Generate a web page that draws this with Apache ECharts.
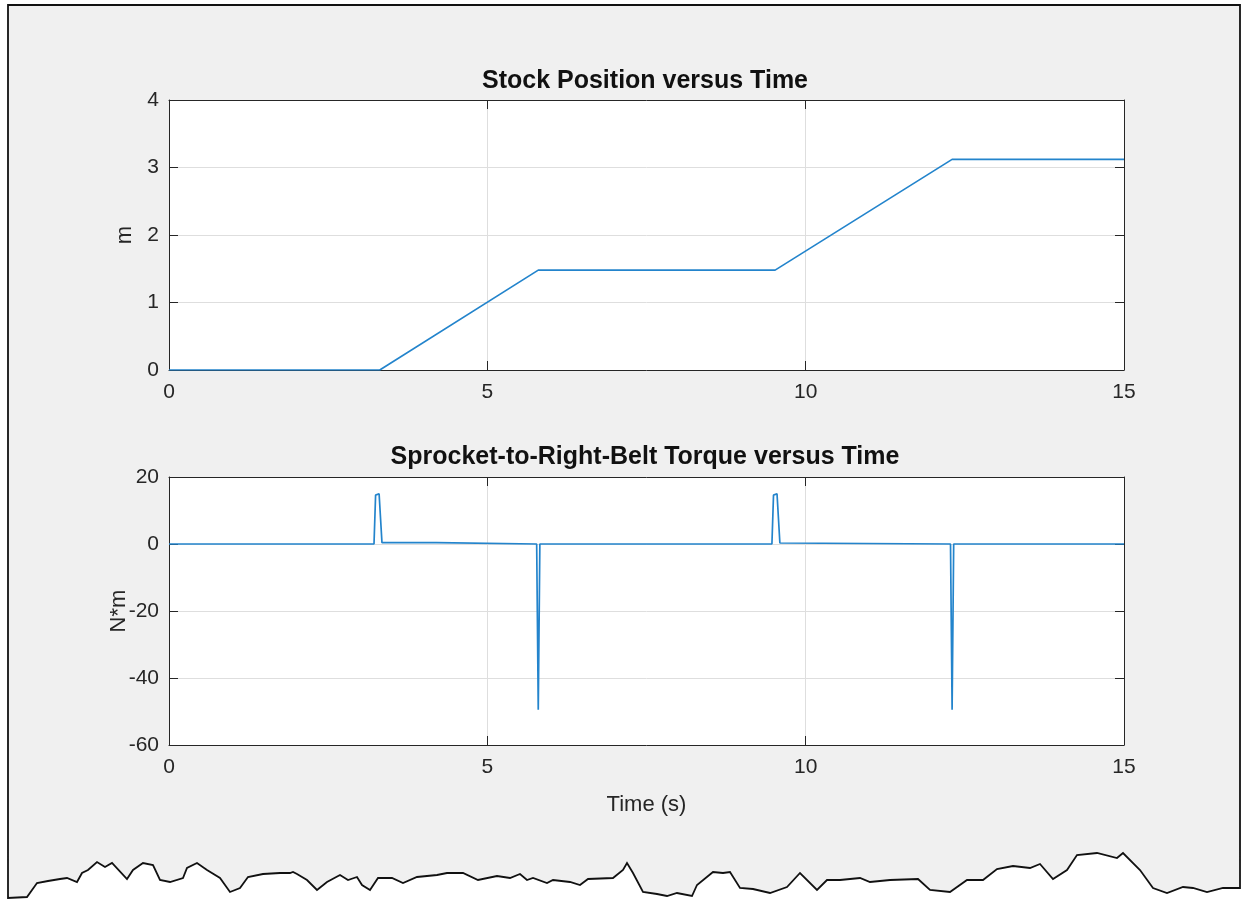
<!DOCTYPE html>
<html>
<head>
<meta charset="utf-8">
<script src="https://cdn.jsdelivr.net/npm/echarts@6/dist/echarts.min.js"></script>
<style>
html,body{margin:0;padding:0;background:#ffffff;}
#chart{width:1244px;height:905px;}
</style>
</head>
<body>
<div id="chart"></div>
<script>
// ---- data ----
const titleTop = 'Stock Position versus Time';
const titleBottom = 'Sprocket-to-Right-Belt Torque versus Time';
const xTicks = [0, 5, 10, 15];
const yTicksTop = [0, 1, 2, 3, 4];
const yTicksBottom = [-60, -40, -20, 0, 20];
const posTime = [0, 3.31, 5.80, 9.52, 12.30, 15];
const posValue = [0, 0, 1.48, 1.48, 3.12, 3.12];
const torqueTime = [0, 3.22, 3.245, 3.27, 3.30, 3.325, 3.345, 3.36, 4.20, 4.21,
  5.775, 5.80, 5.825, 9.47, 9.495, 9.52, 9.55, 9.575, 9.595, 9.61, 12.275, 12.30, 12.325, 15];
const torqueValue = [0, 0, 14.6, 15.0, 15.0, 14.6, 0.4, 0.4, 0.4, 0,
  0, -49.5, 0, 0, 14.6, 15.0, 15.0, 14.6, 0.3, 0, 0, -49.5, 0, 0];
const xLabel = 'Time (s)';
const yLabelTop = 'm';
const yLabelBottom = 'N*m';

// torn paper edge (decoration)
const tornEdge = [[8,898],[27,897],[37,883],[48,881],[60,879],[67,878],[77,882],[82,873],[88,870],[97,862],[105,867],[112,863],[127,879],[133,870],[143,863],[153,865],[160,880],[170,882],[183,878],[187,868],[197,863],[207,870],[220,878],[230,892],[240,888],[248,877],[263,874],[280,873],[290,873],[293,872],[297,874],[307,880],[317,890],[327,882],[340,875],[348,880],[357,877],[362,885],[370,890],[378,878],[392,878],[403,883],[417,877],[437,875],[447,873],[463,873],[478,880],[497,876],[510,878],[520,874],[527,880],[533,878],[547,883],[553,880],[570,882],[580,885],[588,879],[613,878],[623,870],[627,863],[633,873],[643,892],[657,894],[667,896],[677,893],[692,896],[697,885],[713,872],[723,873],[730,872],[740,888],[753,889],[770,893],[787,887],[800,873],[817,890],[827,880],[840,880],[860,878],[870,882],[890,880],[918,879],[930,890],[950,892],[967,880],[983,880],[997,869],[1013,866],[1030,868],[1040,864],[1053,879],[1067,870],[1077,855],[1097,853],[1117,858],[1123,853],[1140,870],[1153,888],[1167,893],[1183,887],[1193,888],[1207,892],[1223,888],[1240,888]];

const FONT = "'Liberation Sans', Arial, Helvetica, sans-serif";
const AX = '#262626';
const GRIDC = '#dedede';
const LINEC = '#2384cc';

function zip(a, b) { return a.map((v, i) => [v, b[i]]); }

function xAx(grid, pos, showLabel, extra) {
  return Object.assign({
    type: 'value', gridIndex: grid, position: pos, min: xTicks[0], max: xTicks[xTicks.length - 1], interval: 5,
    axisLine: { show: true, onZero: false, lineStyle: { color: AX, width: 1 } },
    axisTick: { show: true, inside: true, length: 9, lineStyle: { color: AX } },
    axisLabel: { show: showLabel, color: AX, fontSize: 21, fontFamily: FONT, margin: 12 },
    splitLine: { show: showLabel, lineStyle: { color: GRIDC, width: 1 } }
  }, extra || {});
}
function yAx(grid, pos, showLabel, ticks, extra) {
  return Object.assign({
    type: 'value', gridIndex: grid, position: pos, min: ticks[0], max: ticks[ticks.length - 1],
    interval: ticks[1] - ticks[0],
    axisLine: { show: true, onZero: false, lineStyle: { color: AX, width: 1 } },
    axisTick: { show: true, inside: true, length: 9, lineStyle: { color: AX } },
    axisLabel: { show: showLabel, color: AX, fontSize: 21, fontFamily: FONT, margin: 10 },
    splitLine: { show: showLabel, lineStyle: { color: GRIDC, width: 1 } }
  }, extra || {});
}

const framePoly = [[8,5],[1240,5]].concat(tornEdge.slice().reverse());
const nameStyle = { color: AX, fontSize: 22, fontFamily: FONT };

const option = {
  animation: false,
  backgroundColor: 'transparent',
  graphic: [{
    type: 'polygon', z: -10, silent: true,
    shape: { points: framePoly },
    style: { fill: '#f0f0f0', stroke: '#111', lineWidth: 1.8 }
  }],
  title: [
    { text: titleTop, left: 645, top: 69, textAlign: 'center', padding: 0,
      textStyle: { fontFamily: FONT, fontSize: 25, fontWeight: 'bold', color: '#111' } },
    { text: titleBottom, left: 645, top: 445, textAlign: 'center', padding: 0,
      textStyle: { fontFamily: FONT, fontSize: 25, fontWeight: 'bold', color: '#111' } }
  ],
  grid: [
    { left: 169, top: 100, width: 955, height: 270, show: true, backgroundColor: '#ffffff', borderWidth: 0 },
    { left: 169, top: 477, width: 955, height: 268, show: true, backgroundColor: '#ffffff', borderWidth: 0 }
  ],
  xAxis: [
    xAx(0, 'bottom', true),
    xAx(0, 'top', false),
    xAx(1, 'bottom', true, { name: xLabel, nameLocation: 'middle', nameGap: 49, nameMoveOverlap: false, nameTextStyle: nameStyle }),
    xAx(1, 'top', false)
  ],
  yAxis: [
    yAx(0, 'left', true, yTicksTop, { name: yLabelTop, nameLocation: 'middle', nameGap: 33, nameMoveOverlap: false, nameTextStyle: nameStyle }),
    yAx(0, 'right', false, yTicksTop),
    yAx(1, 'left', true, yTicksBottom, { name: yLabelBottom, nameLocation: 'middle', nameGap: 39, nameMoveOverlap: false, nameTextStyle: nameStyle }),
    yAx(1, 'right', false, yTicksBottom)
  ],
  series: [
    { type: 'line', xAxisIndex: 0, yAxisIndex: 0, data: zip(posTime, posValue),
      showSymbol: false, symbol: 'none', lineStyle: { color: LINEC, width: 1.7 } },
    { type: 'line', xAxisIndex: 2, yAxisIndex: 2, data: zip(torqueTime, torqueValue),
      showSymbol: false, symbol: 'none', lineStyle: { color: LINEC, width: 1.7 } }
  ]
};

const chart = echarts.init(document.getElementById('chart'), null, { renderer: 'canvas' });
chart.setOption(option);
</script>
</body>
</html>
